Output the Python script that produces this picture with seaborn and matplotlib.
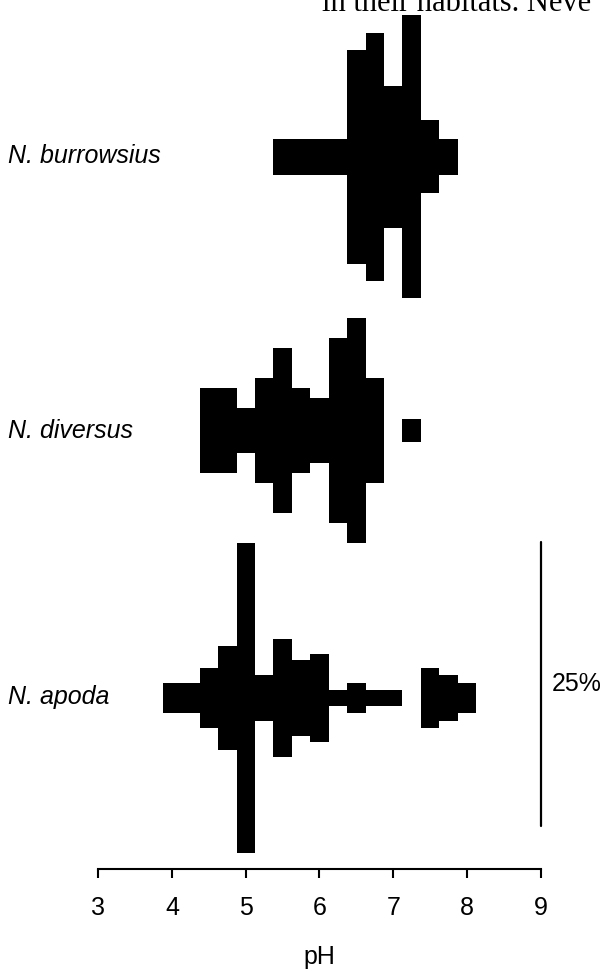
import numpy as np
import matplotlib
matplotlib.use("Agg")
import matplotlib.pyplot as plt
import seaborn as sns

# pH bin centres (bin width 0.25) and share of records in each bin (%)
burrowsius_ph = [5.5, 5.75, 6.0, 6.25, 6.5, 6.75, 7.0, 7.25, 7.5, 7.75]
burrowsius_pct = [3.2, 3.2, 3.2, 3.2, 18.8, 21.8, 12.5, 24.9, 6.4, 3.2]

diversus_ph = [4.5, 4.75, 5.0, 5.25, 5.5, 5.75, 6.0, 6.25, 6.5, 6.75, 7.25]
diversus_pct = [7.5, 7.5, 4.0, 9.2, 14.6, 7.5, 5.8, 16.3, 19.8, 9.2, 2.1]

apoda_ph = [4.0, 4.25, 4.5, 4.75, 5.0, 5.25, 5.5, 5.75, 6.0, 6.25, 6.5,
            6.75, 7.0, 7.5, 7.75, 8.0]
apoda_pct = [2.6, 2.6, 5.2, 9.1, 27.3, 4.0, 10.4, 6.7, 7.8, 1.4, 2.7,
             1.4, 1.4, 5.2, 4.0, 2.7]

species = ["N. burrowsius", "N. diversus", "N. apoda"]
xticks = [3, 4, 5, 6, 7, 8, 9]

sns.set_theme(style="white")
plt.rcParams["font.family"] = ["Liberation Sans", "DejaVu Sans"]
plt.rcParams["text.color"] = "black"
plt.rcParams["axes.labelcolor"] = "black"
plt.rcParams["xtick.color"] = "black"

fig = plt.figure(figsize=(6.03, 9.72), dpi=100)
ax = fig.add_axes([0.163, 0.106, 0.7337, 0.894])

# vertical position (in % units) of the midline of each species strip
centres = [62.7, 38.6, 15.05]
groups = [(burrowsius_ph, burrowsius_pct), (diversus_ph, diversus_pct),
          (apoda_ph, apoda_pct)]

for (ph, pct), c in zip(groups, centres):
    pct = np.array(pct)
    ax.bar(ph, pct, bottom=c - pct / 2, width=0.25, color="black",
           linewidth=0, antialiased=False)

ax.set_xlim(3, 9)
ax.set_ylim(0, 76.5)
ax.set_xticks(xticks)
ax.set_xticklabels([str(t) for t in xticks], fontsize=18)
ax.set_yticks([])
ax.tick_params(axis="x", direction="out", length=6.5, width=1.5, pad=13,
               bottom=True)
ax.set_xlabel("pH", fontsize=18, labelpad=18)
sns.despine(ax=ax, left=True)
ax.spines["bottom"].set_linewidth(1.5)
ax.spines["bottom"].set_color("black")

# scale bar: 25 %
ax.plot([9, 9], [3.8, 28.8], color="black", linewidth=1.6, clip_on=False)
ax.text(9.15, 16.3, "25%", fontsize=18, va="center", ha="left")

# species labels
for name, yb in zip(species, [163, 438, 704]):
    fig.text(8 / 603, 1 - yb / 972, name, fontsize=18, style="italic",
             va="baseline", ha="left")

# fragment of running text above the figure (cut by the page edge)
fig.text(322 / 603, 1 - 11 / 972, "in their habitats. Neve",
         fontsize=22, family=["Liberation Serif", "DejaVu Serif"],
         va="baseline", ha="left")

fig.savefig("out.png", dpi=100)
